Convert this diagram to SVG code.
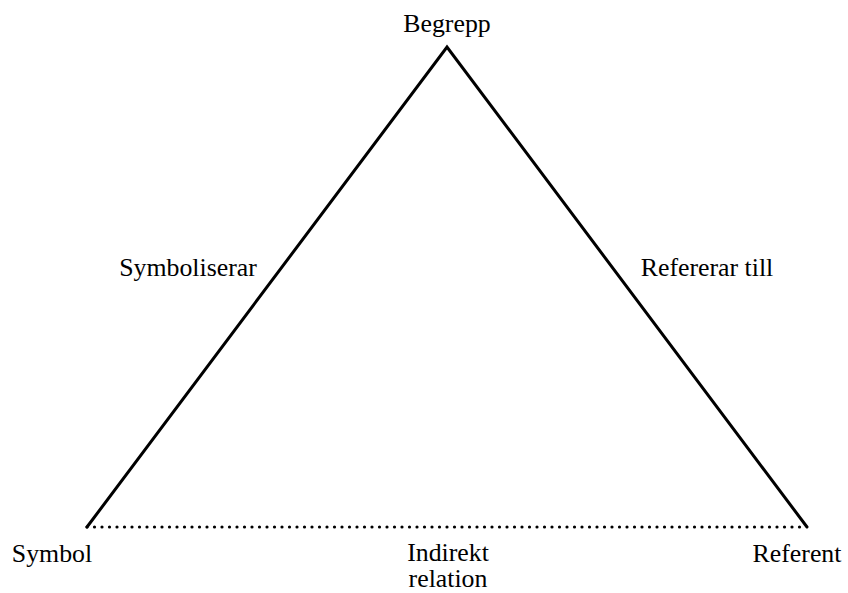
<svg xmlns="http://www.w3.org/2000/svg" width="848" height="593" viewBox="0 0 848 593">
  <style>
    .lbl { font-family: "Liberation Serif", "Times New Roman", serif; font-size: 25.8px; fill: #000; }
    .edge { stroke: #000; stroke-width: 3; fill: none; stroke-linecap: round; }
    .dotted { stroke: #000; stroke-width: 3.2; fill: none; stroke-linecap: round; stroke-dasharray: 0 7.5; }
  </style>
  <rect width="848" height="593" fill="#fff"/>
  <g id="connectors">
    <!-- solid sides of the triangle -->
    <path class="edge" d="M87,527 L447,47 L807,527"/>
    <!-- dotted base: indirect relation -->
    <path class="dotted" d="M87,527 L807,527"/>
    <text class="lbl" x="188" y="276" text-anchor="middle">Symboliserar</text>
    <text class="lbl" x="707" y="276" text-anchor="middle">Refererar till</text>
    <text class="lbl" text-anchor="middle"><tspan x="448" y="561">Indirekt</tspan><tspan x="448" y="587">relation</tspan></text>
  </g>
  <g id="begrepp">
    <text class="lbl" x="447" y="32" text-anchor="middle">Begrepp</text>
  </g>
  <g id="symbol">
    <text class="lbl" x="52" y="562" text-anchor="middle">Symbol</text>
  </g>
  <g id="referent">
    <text class="lbl" x="797" y="562" text-anchor="middle">Referent</text>
  </g>
</svg>
